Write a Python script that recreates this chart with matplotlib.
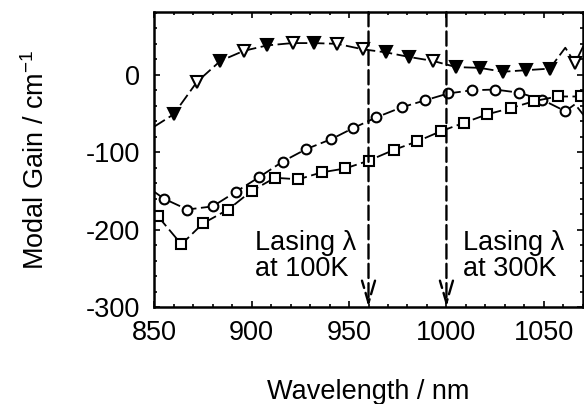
import matplotlib
matplotlib.use("Agg")
import matplotlib.pyplot as plt
from matplotlib.ticker import MultipleLocator

plt.rcParams['font.family'] = ['Liberation Sans', 'DejaVu Sans']
plt.rcParams['axes.unicode_minus'] = False

# wavelength (nm) / modal gain (cm^-1)
tri_x = [860, 872, 884, 896, 908, 921, 932, 944, 957, 969, 981, 993, 1005, 1017, 1029, 1041, 1053, 1066]
tri_y = [-51, -9, 18, 31, 38, 41, 41, 40, 33, 29, 23, 18, 10, 9, 4, 6, 8, 15]
tri_open = [0, 1, 0, 1, 0, 1, 0, 1, 1, 0, 0, 1, 0, 0, 0, 0, 0, 1]
tri_line_x = [850, 860, 872, 884, 896, 908, 921, 932, 944, 957, 969, 981, 993, 1005, 1017, 1029, 1041, 1053, 1061, 1066, 1071]
tri_line_y = [-67, -51, -9, 18, 31, 38, 41, 41, 40, 33, 29, 23, 18, 10, 9, 4, 6, 8, 35, 15, 41]

circ_x = [855, 867, 880, 892, 904, 916, 928, 941, 952, 964, 977, 989, 1001, 1013, 1025, 1037, 1049, 1061]
circ_y = [-160, -174, -170, -151, -132, -112, -96, -83, -69, -55, -42, -33, -24, -20, -19, -23, -32, -47]
circ_line_x = [850] + circ_x + [1066, 1071]
circ_line_y = [-151] + circ_y + [-38, -54]

sq_x = [852, 864, 875, 888, 900, 912, 924, 936, 948, 960, 973, 985, 997, 1009, 1021, 1033, 1045, 1057, 1069]
sq_y = [-183, -219, -192, -174, -150, -133, -135, -126, -121, -111, -97, -86, -73, -62, -51, -43, -34, -28, -28]

lasing_x = [960, 1000]
lasing_text_x = [902, 1008.5]
lasing_labels = ["Lasing \u03bb\nat 100K", "Lasing \u03bb\nat 300K"]

FS = 19.5

fig = plt.figure(figsize=(5.84, 4.04), dpi=100)
ax = fig.add_axes([0.264, 0.240, 0.734, 0.730])

dash = (0, (7, 2.5))
ax.plot(tri_line_x, tri_line_y, color='black', lw=1.3, linestyle=dash)
for x, y, o in zip(tri_x, tri_y, tri_open):
    ax.plot(x, y, marker='v', ms=8.5, mec='black', mew=1.5,
            mfc='white' if o else 'black', linestyle='none')

ax.plot(circ_line_x, circ_line_y, color='black', lw=1.3, linestyle=dash)
ax.plot(circ_x, circ_y, marker='o', ms=7, mec='black', mew=1.5, mfc='white', linestyle='none')

ax.plot(sq_x, sq_y, color='black', lw=1.3, linestyle=dash,
        marker='s', ms=7, mec='black', mew=1.5, mfc='white')

for lx in lasing_x:
    ax.annotate('', xy=(lx, -300), xytext=(lx, 81),
                arrowprops=dict(arrowstyle='->,head_length=1.6,head_width=0.47',
                                color='black', lw=1.7, linestyle=(0, (6, 2.2)),
                                shrinkA=0, shrinkB=0))

for tx, lab in zip(lasing_text_x, lasing_labels):
    ax.text(tx, -234, lab, ha='left', va='center', fontsize=FS, linespacing=1.0)

ax.set_xlim(850, 1070)
ax.set_ylim(-300, 81)
ax.xaxis.set_major_locator(MultipleLocator(50))
ax.xaxis.set_minor_locator(MultipleLocator(10))
ax.yaxis.set_major_locator(MultipleLocator(100))
ax.yaxis.set_minor_locator(MultipleLocator(20))
ax.tick_params(which='both', direction='in', top=True, right=True, labelsize=FS, width=1.2)
ax.tick_params(which='major', length=4)
ax.tick_params(which='minor', length=2.5)
ax.tick_params(axis='x', pad=9)
ax.tick_params(axis='y', pad=10)
for s in ax.spines.values():
    s.set_linewidth(1.8)

ax.set_xlabel('Wavelength / nm', fontsize=FS, labelpad=24)
ax.set_ylabel('Modal Gain / cm$^{\\mathregular{-1}}$', fontsize=FS, labelpad=26)

fig.savefig('out.png', dpi=100)
